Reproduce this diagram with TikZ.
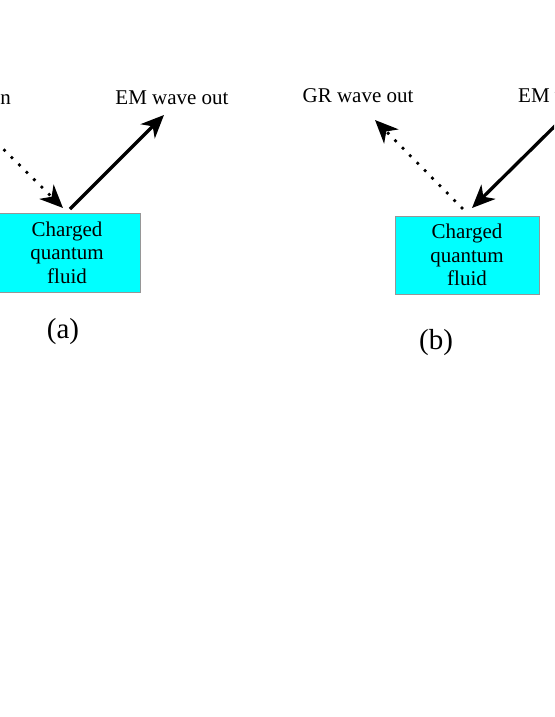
\documentclass[tikz,border=0pt]{standalone}
\usepackage{fontspec}
\setmainfont{Liberation Serif}
\usetikzlibrary{arrows.meta}
\definecolor{fluidcyan}{RGB}{0,255,255}
\definecolor{boxedge}{RGB}{150,150,150}
\begin{document}
\begin{tikzpicture}[x=1pt,y=-1pt,
  fluidbox/.style={draw=boxedge, fill=fluidcyan, line width=0.8pt, inner sep=0pt,
    align=center, font=\fontsize{21}{23.5}\selectfont},
  lbl/.style={font=\fontsize{21}{24}\selectfont, inner sep=0pt},
  caplbl/.style={font=\fontsize{29}{32}\selectfont, inner sep=0pt},
  wave/.style={line width=3.3pt, -{Stealth[length=23pt,width=20pt,inset=7pt]}},
  dotwave/.style={wave, line width=3.8pt, line cap=round, dash pattern=on 0pt off 10.5pt}]
\useasboundingbox (0,0) rectangle (554,717);
\clip (0,0) rectangle (554,717);
% (a)
\node[fluidbox, minimum width=146pt, minimum height=79pt] (boxa) at (67,252.5) {Charged\\quantum\\fluid};
\node[lbl, anchor=base east] (grin) at (11,104) {GR wave in};
\node[lbl, anchor=base] (emout) at (172,104) {EM wave out};
\coordinate (gasrc) at (-10.5,135.5);
\coordinate (gatip) at (63,208);
\coordinate (easrc) at (70,209);
\coordinate (eatip) at (164,115);
\draw[dotwave] (gasrc) -- (gatip);
\draw[wave] (easrc) -- (eatip);
\node[caplbl] (capa) at (63,332) {(a)};
% (b)
\node[fluidbox, minimum width=144pt, minimum height=78pt] (boxb) at (467,255) {Charged\\quantum\\fluid};
\node[lbl, anchor=base] (grout) at (358,102) {GR wave out};
\node[lbl, anchor=base west] (emin) at (518,102) {EM wave in};
\coordinate (gbsrc) at (462,208);
\coordinate (gbtip) at (375,120);
\coordinate (ebsrc) at (560,121);
\coordinate (ebtip) at (472,208);
\draw[dotwave] (gbsrc) -- (gbtip);
\draw[wave] (ebsrc) -- (ebtip);
\node[caplbl] (capb) at (436,343) {(b)};
\end{tikzpicture}
\end{document}
